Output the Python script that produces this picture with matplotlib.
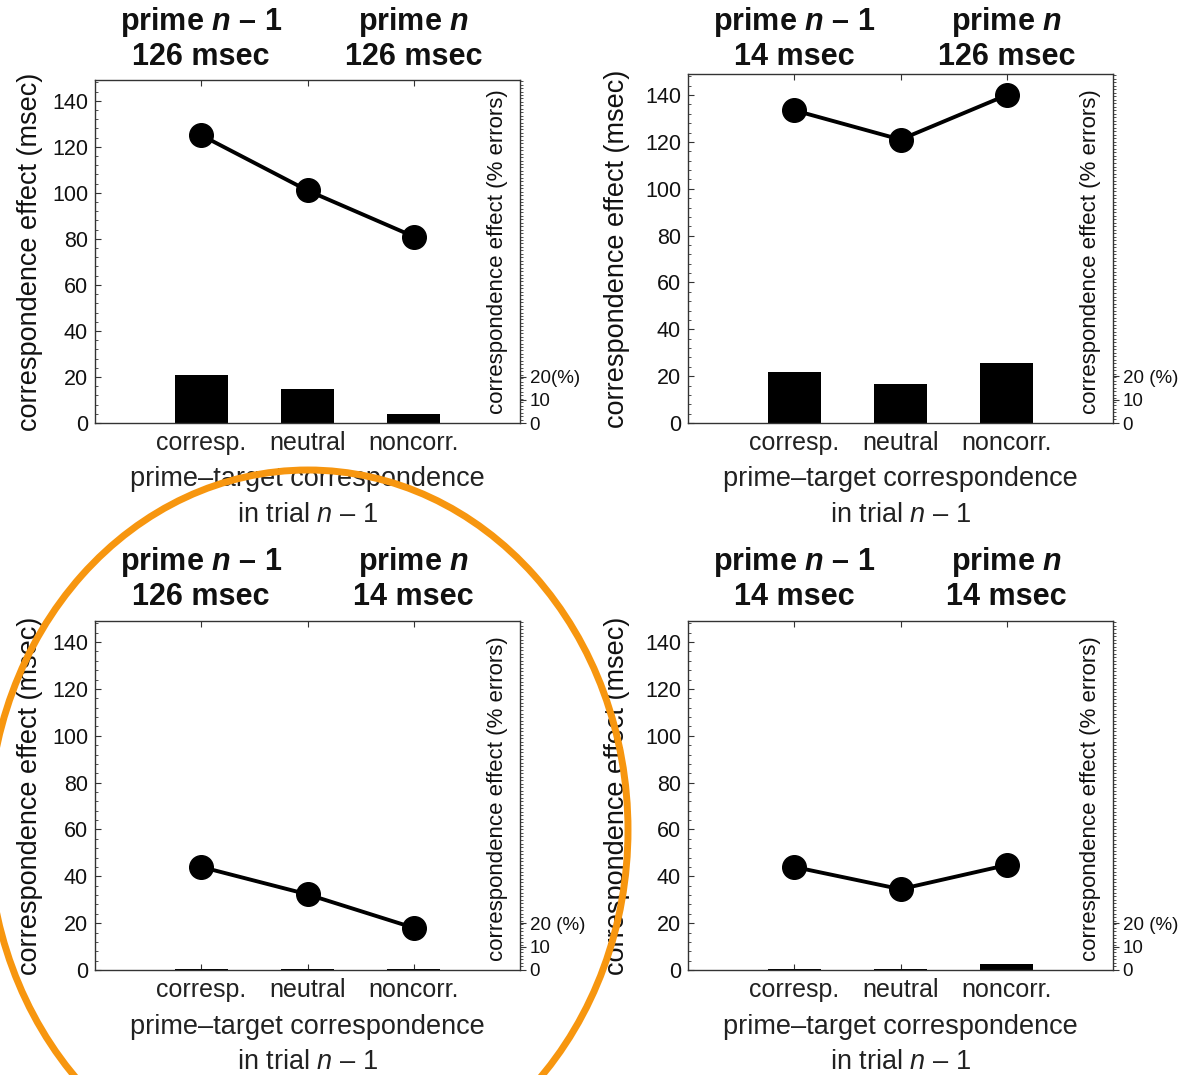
import matplotlib.pyplot as plt
from matplotlib.patches import Ellipse
from matplotlib.ticker import MultipleLocator
from matplotlib.transforms import blended_transform_factory

plt.rcParams['font.family'] = ['Liberation Sans', 'DejaVu Sans']
plt.rcParams['mathtext.fontset'] = 'custom'
plt.rcParams['mathtext.rm'] = 'Liberation Sans'
plt.rcParams['mathtext.it'] = 'Liberation Sans:italic'
plt.rcParams['mathtext.bf'] = 'Liberation Sans:bold'
plt.rcParams['mathtext.bfit'] = 'Liberation Sans:italic:bold'

# data
categories = ['corresp.', 'neutral', 'noncorr.']
x_pos = [1, 2, 3]

# prime n-1 / prime n durations per panel
prime_prev = ['126 msec', '14 msec', '126 msec', '14 msec']
prime_curr = ['126 msec', '126 msec', '14 msec', '14 msec']

# correspondence effect in RT (msec), line
rt_126_126 = [125, 101, 81]
rt_14_126 = [133.5, 121, 140]
rt_126_14 = [44, 32.3, 18]
rt_14_14 = [44, 34.5, 44.8]

# correspondence effect in errors (%), bars
err_126_126 = [20.8, 14.9, 4.0]
err_14_126 = [21.8, 16.7, 25.8]
err_126_14 = [0.4, 0.4, 0.4]
err_14_14 = [0.4, 0.4, 2.5]

rt_data = [rt_126_126, rt_14_126, rt_126_14, rt_14_14]
err_data = [err_126_126, err_14_126, err_126_14, err_14_14]
pct_label = ['20(%)', '20 (%)', '20 (%)', '20 (%)']

W, H = 1193, 1075
fig = plt.figure(figsize=(W / 100, H / 100), dpi=100)

# axes boxes in pixels: left, right, top, bottom
boxes = [(95, 520, 80, 423), (688, 1113, 74, 423),
         (95, 520, 621, 970), (688, 1113, 621, 970)]
ylab_x = [30, 617, 30, 617]
title_y = [(22, 57), (22, 57), (562, 597), (562, 597)]
xlab_y = [(479, 515), (479, 515), (1027, 1062), (1027, 1062)]

txt = '#111111'
spine_c = '#333333'

for i in range(4):
    l, r, t, b = boxes[i]
    ax = fig.add_axes([l / W, 1 - b / H, (r - l) / W, (b - t) / H])
    ax.bar(x_pos, err_data[i], width=0.5, color='black', zorder=2)
    ax.plot(x_pos, rt_data[i], color='black', lw=2.8, marker='o',
            markersize=17, zorder=3)
    ax.set_xlim(0, 4)
    ax.set_ylim(0, 149)

    ax.set_xticks(x_pos)
    ax.set_xticklabels(categories, fontsize=18, color='#222222')
    ax.set_yticks(range(0, 141, 20))
    ax.yaxis.set_minor_locator(MultipleLocator(4))
    ax.tick_params(axis='x', direction='in', length=4, width=0.8,
                   top=True, pad=6, colors=spine_c, labelcolor='#222222')
    ax.tick_params(axis='y', which='major', direction='in', length=4,
                   width=0.8, right=False, pad=5, labelsize=15.5,
                   colors=spine_c, labelcolor=txt)
    ax.tick_params(axis='y', which='minor', direction='in', length=2.5,
                   width=0.6, right=False, colors=spine_c)
    for s in ax.spines.values():
        s.set_color(spine_c)
        s.set_linewidth(1.0)

    ax.text((ylab_x[i] - l) / (r - l), 0.5, 'correspondence effect (msec)',
            transform=ax.transAxes, rotation=90, ha='center', va='center',
            fontsize=19.5, color=txt)
    ax.text(0.948, 0.025, 'correspondence effect (% errors)',
            transform=ax.transAxes, rotation=90, ha='center', va='bottom',
            fontsize=16, color=txt)

    # right axis for errors, same scale
    ax2 = ax.twinx()
    ax2.set_ylim(0, 149)
    ax2.set_yticks([0, 10, 20])
    ax2.set_yticklabels(['0', '10', pct_label[i]])
    ax2.yaxis.set_minor_locator(MultipleLocator(1.5))
    ax2.tick_params(axis='y', which='major', direction='out', length=4,
                    width=0.8, pad=3, labelsize=13.5, colors=spine_c,
                    labelcolor=txt)
    ax2.tick_params(axis='y', which='minor', direction='out', length=2.5,
                    width=0.6, colors=spine_c)
    for s in ax2.spines.values():
        s.set_visible(False)

    tr = blended_transform_factory(ax.transData, fig.transFigure)
    y1, y2 = title_y[i]
    ax.text(1, 1 - y1 / H, r'prime $\mathbfit{n}$ – 1', transform=tr,
            ha='center', va='center', fontsize=22, fontweight='bold', color=txt)
    ax.text(1, 1 - y2 / H, prime_prev[i], transform=tr,
            ha='center', va='center', fontsize=22, fontweight='bold', color=txt)
    ax.text(3, 1 - y1 / H, r'prime $\mathbfit{n}$', transform=tr,
            ha='center', va='center', fontsize=22, fontweight='bold', color=txt)
    ax.text(3, 1 - y2 / H, prime_curr[i], transform=tr,
            ha='center', va='center', fontsize=22, fontweight='bold', color=txt)

    y1, y2 = xlab_y[i]
    ax.text(2, 1 - y1 / H, 'prime–target correspondence', transform=tr,
            ha='center', va='center', fontsize=19.5, color='#222222')
    ax.text(2, 1 - y2 / H, r'in trial $\mathit{n}$ – 1', transform=tr,
            ha='center', va='center', fontsize=19.5, color='#222222')

# orange highlight around the lower-left panel
over = fig.add_axes([0, 0, 1, 1])
over.set_xlim(0, W)
over.set_ylim(H, 0)
over.axis('off')
over.add_patch(Ellipse((308, 830), 640, 720, fill=False,
                       edgecolor='#F7960F', lw=5))

fig.savefig('out.png', dpi=100)
